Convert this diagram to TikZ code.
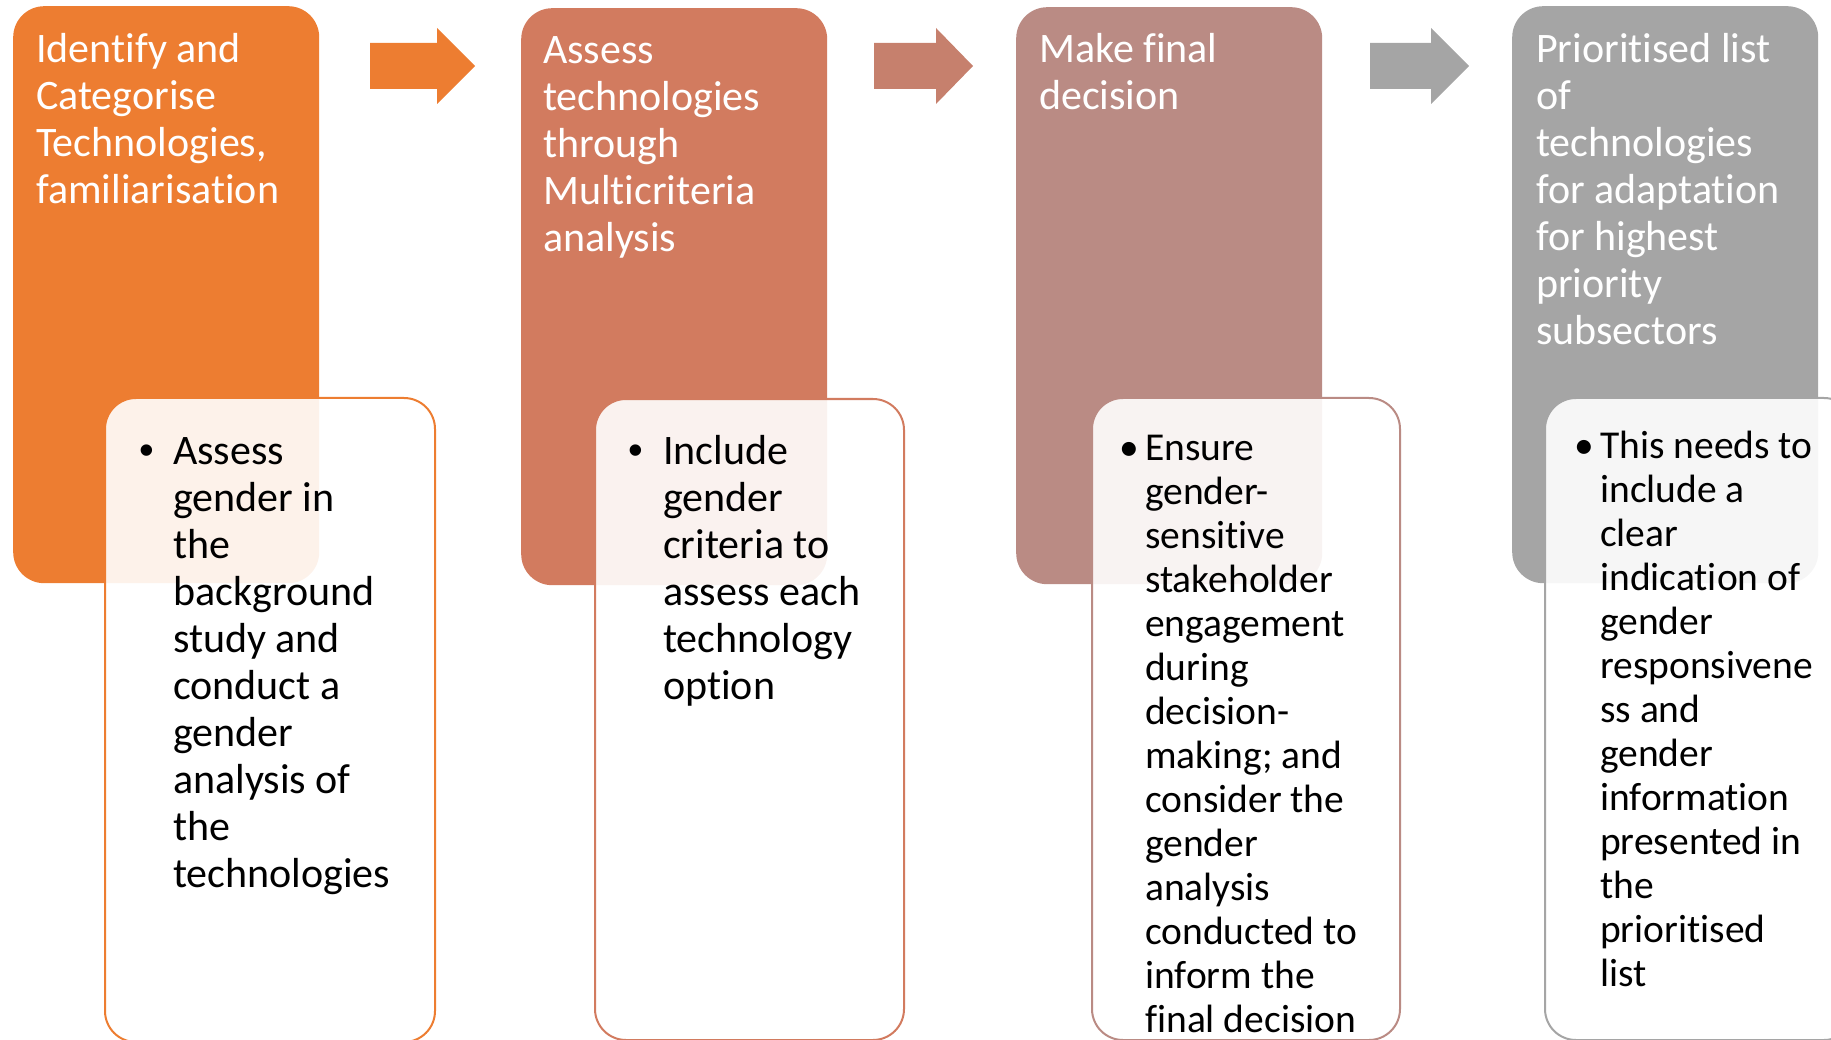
\documentclass[tikz,border=0pt]{standalone}
\usepackage{fontspec}
\setmainfont{Carlito}[Ligatures={NoCommon}]
\newfontfamily\bulfont{Liberation Sans}
\definecolor{c1}{RGB}{237,125,49}
\definecolor{c2}{RGB}{210,123,95}
\definecolor{c3}{RGB}{186,139,132}
\definecolor{c4}{RGB}{165,165,165}
\definecolor{a2}{RGB}{198,128,109}
\begin{document}
\begin{tikzpicture}[x=1pt,y=-1pt,
  topbox/.style={rounded corners=31pt, inner sep=0pt, anchor=north west, draw=none, minimum width=306pt, minimum height=577pt},
  lowbox/.style={rounded corners=31pt, inner sep=0pt, anchor=north west, fill=white, fill opacity=0.9, line width=2pt},
  toptext/.style={anchor=north west, inner sep=0pt, align=left, text=white, font=\fontsize{42}{47}\selectfont},
  lowtext/.style={anchor=north west, inner sep=0pt, align=left, text=black, font=\fontsize{42}{47}\selectfont},
  lowtextb/.style={anchor=north west, inner sep=0pt, align=left, text=black, font=\fontsize{39.5}{44}\selectfont},
  bula/.style={anchor=base, inner sep=0pt, text=black, font=\bulfont\fontsize{42}{47}\selectfont},
  bulb/.style={anchor=base, inner sep=0pt, text=black, font=\fontsize{39.5}{44}\selectfont},
]
\useasboundingbox (0,0) rectangle (1831,1040);
\clip (0,0) rectangle (1831,1040);

% top boxes
\node[topbox, fill=c1] (b1) at (13,6) {};
\node[topbox, fill=c2] (b2) at (521,8) {};
\node[topbox, fill=c3] (b3) at (1016,7) {};
\node[topbox, fill=c4] (b4) at (1512,6) {};

\node[toptext] (t1) at (36,29.6) {\strut Identify and\\Categorise\\Technologies,\\familiarisation};
\node[toptext] (t2) at (543,30.6) {\strut Assess\\technologies\\through\\Multicriteria\\analysis};
\node[toptext] (t3) at (1039,29.6) {\strut Make final\\decision};
\node[toptext] (t4) at (1536,29.6) {\strut Prioritised list\\of\\technologies\\for adaptation\\for highest\\priority\\subsectors};

% arrows
\fill[c1] (370,43) -- (437,43) -- (437,28) -- (475,66) -- (437,104) -- (437,89) -- (370,89) -- cycle;
\fill[a2] (874,43) -- (936,43) -- (936,28) -- (973,66) -- (936,104) -- (936,89) -- (874,89) -- cycle;
\fill[c4] (1370,43) -- (1431,43) -- (1431,28) -- (1469,66) -- (1431,104) -- (1431,89) -- (1370,89) -- cycle;

% lower boxes
\node[lowbox, draw=c1, minimum width=330pt, minimum height=644pt] (l1) at (104,397) {};
\node[lowbox, draw=c2, minimum width=309pt, minimum height=641pt] (l2) at (594,398) {};
\node[lowbox, draw=c3, minimum width=308pt, minimum height=642pt] (l3) at (1091,397) {};
\node[lowbox, draw=c4, minimum width=310pt, minimum height=642pt] (l4) at (1544,397) {};

\node[bula] (p1) at (147,464) {•};
\node[lowtext] (s1) at (173,431.1) {\strut Assess\\gender in\\the\\background\\study and\\conduct a\\gender\\analysis of\\the\\technologies};
\node[bula] (p2) at (636,464) {•};
\node[lowtext] (s2) at (663,431.1) {\strut Include\\gender\\criteria to\\assess each\\technology\\option};
\node[bulb] (p3) at (1129,460) {•};
\node[lowtextb] (s3) at (1145,429.2) {\strut Ensure\\gender-\\sensitive\\stakeholder\\engagement\\during\\decision-\\making; and\\consider the\\gender\\analysis\\conducted to\\inform the\\final decision};
\node[bulb] (p4) at (1584,458) {•};
\node[lowtextb] (s4) at (1600,427.2) {\strut This needs to\\include a\\clear\\indication of\\gender\\responsivene\\ss and\\gender\\information\\presented in\\the\\prioritised\\list};
\end{tikzpicture}
\end{document}
